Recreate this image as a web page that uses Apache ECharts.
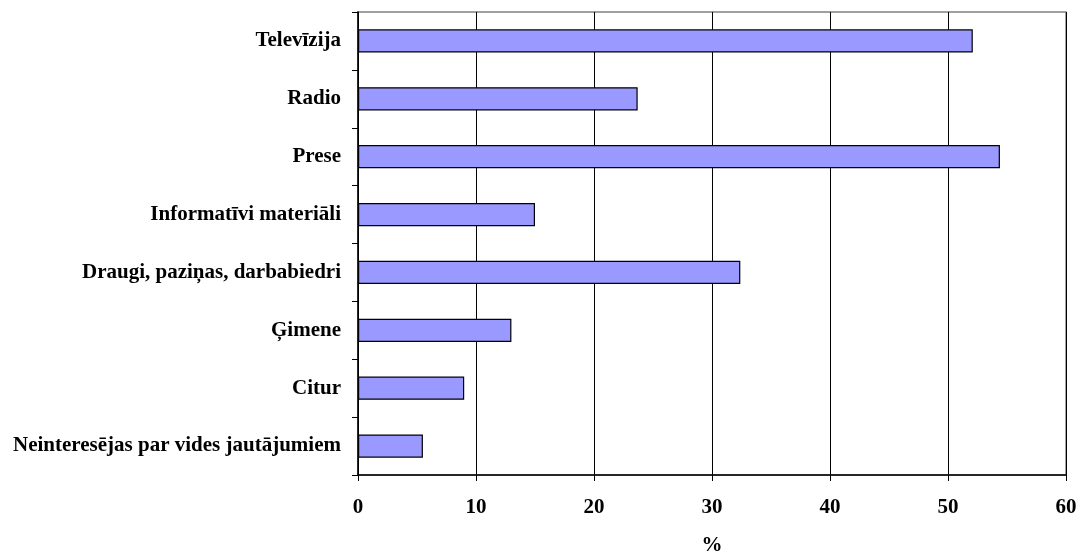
<!DOCTYPE html>
<html>
<head>
<meta charset="utf-8">
<script src="https://cdn.jsdelivr.net/npm/echarts@6/dist/echarts.min.js"></script>
<style>
  html, body { margin: 0; padding: 0; background: #fff; }
  #chart { width: 1080px; height: 551px; }
</style>
</head>
<body>
<div id="chart"></div>
<script>
  // categories top to bottom
  var categories = [
    "Televīzija",
    "Radio",
    "Prese",
    "Informatīvi materiāli",
    "Draugi, paziņas, darbabiedri",
    "Ģimene",
    "Citur",
    "Neinteresējas par vides jautājumiem"
  ];
  var percents = [52.1, 23.7, 54.4, 15.0, 32.4, 13.0, 9.0, 5.5];
  var xTicks = [0, 10, 20, 30, 40, 50, 60];

  var font = '"Liberation Serif", "Times New Roman", serif';
  var myChart = echarts.init(document.getElementById("chart"));

  myChart.setOption({
    animation: false,
    grid: {
      left: 358,
      right: 14,
      top: 12,
      bottom: 76,
      outerBoundsMode: "none",
      show: true,
      borderColor: "#808080",
      borderWidth: 1.5
    },
    xAxis: {
      type: "value",
      min: xTicks[0],
      max: xTicks[xTicks.length - 1],
      interval: 10,
      name: "%",
      nameLocation: "middle",
      nameGap: 60,
      nameTextStyle: { fontFamily: font, fontWeight: "bold", fontSize: 21, color: "#000" },
      axisLine: { show: true, lineStyle: { color: "#000", width: 1.5 } },
      axisTick: { show: true, length: 6, lineStyle: { color: "#000" } },
      axisLabel: { fontFamily: font, fontWeight: "bold", fontSize: 21, color: "#000", margin: 22 },
      splitLine: { show: true, lineStyle: { color: "#000", width: 1 } }
    },
    yAxis: {
      type: "category",
      data: categories,
      inverse: true,
      axisLine: { show: true, lineStyle: { color: "#000", width: 1.5 } },
      axisTick: { show: true, length: 6, inside: false, lineStyle: { color: "#000" } },
      axisLabel: { fontFamily: font, fontWeight: "bold", fontSize: 21, color: "#000", margin: 17 },
      splitLine: { show: false }
    },
    series: [
      {
        type: "bar",
        data: percents,
        barWidth: "40%",
        itemStyle: {
          color: "#9999FF",
          borderColor: "#000",
          borderWidth: 1.2
        }
      }
    ]
  });
</script>
</body>
</html>
